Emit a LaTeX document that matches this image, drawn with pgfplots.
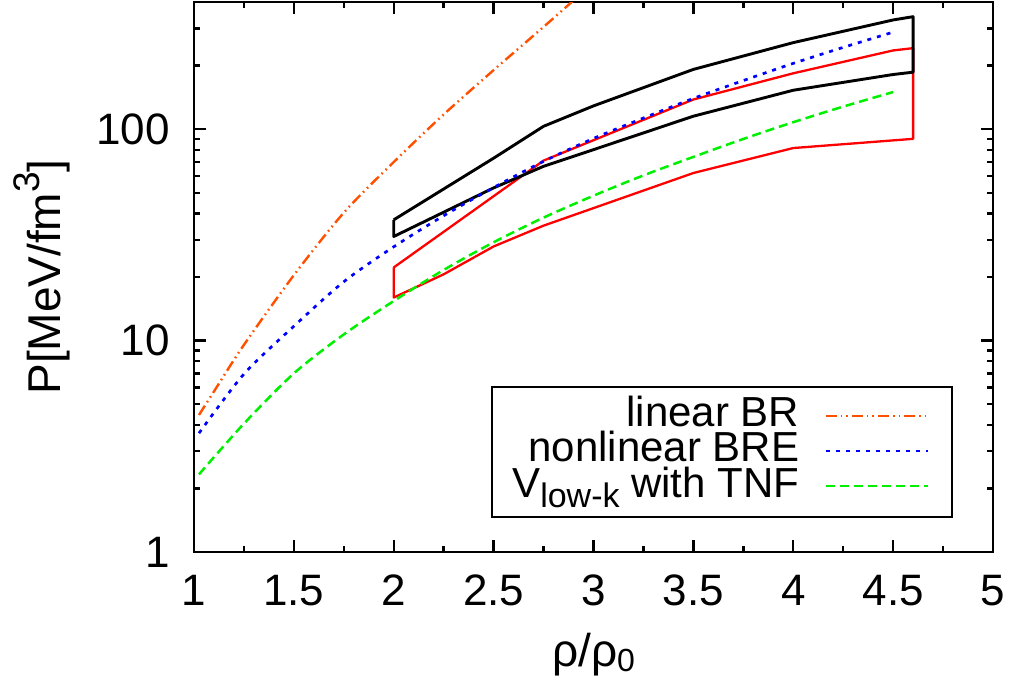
\documentclass[border=0pt]{standalone}
\usepackage{fontspec}
\setmainfont{Liberation Sans}
\usepackage{pgfplots}
\pgfplotsset{compat=1.18}
\definecolor{lbr}{RGB}{255,80,0}
\definecolor{vgreen}{RGB}{0,240,0}
\begin{document}
\begin{tikzpicture}
\begin{axis}[
  at={(0,0)}, anchor=south west,
  scale only axis, width=399.5pt, height=275pt,
  xmin=1, xmax=5, ymode=log, ymin=1, ymax=400,
  xtick={1,1.5,2,2.5,3,3.5,4,4.5,5},
  xticklabels={1,1.5,2,2.5,3,3.5,4,4.5,5},
  minor xtick={1.25,1.75,2.25,2.75,3.25,3.75,4.25,4.75},
  ytick={1,10,100}, yticklabels={1,10,100},
  minor ytick={2,3,4,5,6,7,8,9,20,30,40,50,60,70,80,90,200,300},
  tick align=inside, tick pos=both,
  major tick length=6pt, minor tick length=3pt,
  axis line style={line width=1.35pt},
  every tick/.style={line width=1.2pt, black},
  every x tick label/.append style={font=\fontsize{22}{22}\selectfont, anchor=base, inner sep=0pt, yshift=-26.5pt},
  every y tick label/.append style={font=\fontsize{22}{22}\selectfont, anchor=east, inner sep=0pt, xshift=-12pt},
  xlabel={ρ/ρ\raisebox{-2.5pt}{\fontsize{16}{16}\selectfont 0}},
  ylabel={P[MeV/fm\raisebox{10.5pt}{\fontsize{18.5}{18.5}\selectfont 3}]},
  every axis x label/.style={at={(axis description cs:0.5,0)}, anchor=base, yshift=-57pt, font=\fontsize{23}{23}\selectfont},
  every axis y label/.style={at={(axis description cs:-0.167,0.5)}, anchor=base, rotate=90, font=\fontsize{23}{23}\selectfont},
  legend style={at={(0.9499,0.0618)}, anchor=south east, draw=black, line width=1pt,
    inner xsep=11.5pt, inner ysep=6.1pt, font=\fontsize{21}{21}\selectfont,
    column sep=12.5pt, row sep=0pt,
    nodes={inner sep=0pt, text height=13.75pt, text depth=3.85pt}},
  legend cell align=right, legend plot pos=right,
  legend image code/.code={\draw[#1] (0pt,0.5pt) -- (51pt,0.5pt);},
]
% red band
\addplot[red, line width=1.15pt, line join=round, forget plot] coordinates {
 (2,22.2) (2.75,71.1) (3.5,138.3) (4,184) (4.5,236) (4.6,242) (4.6,90.1)
 (4,81.5) (3.5,62.1) (2.75,35.0) (2.5,27.9) (2.25,20.6) (2,16.0) (2,22.2)};
% black band
\addplot[black, line width=1.45pt, line join=round, forget plot] coordinates {
 (2,37.3) (2.5,73) (2.75,103.3) (3,129) (3.5,192) (4,257) (4.5,329) (4.6,341) (4.6,186.3)
 (4.5,181.6) (4,153) (3.5,115.3) (3,80.1) (2.75,66.8) (2.5,52.8) (2,31.1) (2,37.3)};
% linear BR
\addplot[lbr, line width=1.2pt, smooth, dash pattern=on 5.5pt off 2pt on 0.8pt off 2pt on 0.8pt off 2pt] coordinates {
 (1.025,4.45) (1.1,5.75) (1.25,9.55) (1.5,20.4) (1.75,40.3) (2,70) (2.25,117.5) (2.5,190.5) (2.75,305) (2.9,407)};
\addlegendentry{linear BR}
% nonlinear BRE
\addplot[blue, line width=1.35pt, smooth, dash pattern=on 2pt off 3pt] coordinates {
 (1.025,3.65) (1.25,6.95) (1.5,11.7) (1.75,19.0) (2,27.8) (2.25,39) (2.5,53) (2.75,70.5)
 (3,90.5) (3.25,113) (3.5,140) (3.75,170) (4,205) (4.25,244) (4.5,288)};
\addlegendentry{nonlinear BRE}
% Vlow-k with TNF
\addplot[vgreen, line width=1.25pt, smooth, dash pattern=on 4.5pt off 2.5pt] coordinates {
 (1.025,2.33) (1.25,4.05) (1.5,7.0) (1.75,10.7) (2,15.4) (2.25,21.6) (2.5,29.2) (2.75,38.2)
 (3,48.5) (3.25,60.5) (3.5,74) (3.75,90) (4,108) (4.25,128) (4.5,150)};
\addlegendentry{\makebox[142pt][r]{V\raisebox{-5pt}{\fontsize{17}{17}\selectfont low-k} with TNF}}
\end{axis}
\pgfresetboundingbox
\path (-97pt,-62.5pt) rectangle (411.5pt,276pt);
\end{tikzpicture}
\end{document}
